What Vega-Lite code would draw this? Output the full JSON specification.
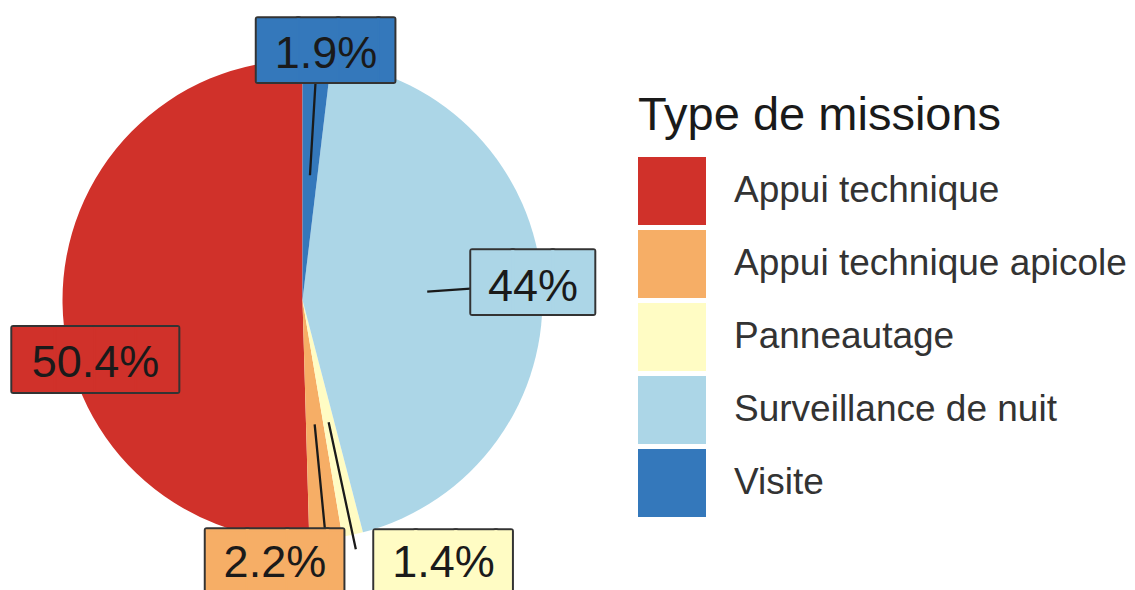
{
  "$schema": "https://vega.github.io/schema/vega-lite/v6.json",
  "width": 605,
  "height": 600,
  "autosize": "none",
  "padding": {"left": 0, "top": 0, "right": 530, "bottom": 0},
  "background": "white",
  "config": {"view": {"stroke": null}, "font": "Liberation Sans"},
  "data": {"values": [
    {"type": "Appui technique", "share": 0.504},
    {"type": "Appui technique apicole", "share": 0.022},
    {"type": "Panneautage", "share": 0.014},
    {"type": "Surveillance de nuit", "share": 0.44},
    {"type": "Visite", "share": 0.019}
  ]},
  "encoding": {
    "theta": {"field": "share", "type": "quantitative", "stack": true},
    "order": {"field": "type", "type": "ordinal", "sort": "descending"},
    "detail": {"field": "type", "type": "nominal"}
  },
  "layer": [
    {
      "mark": {"type": "arc", "outerRadius": 240},
      "encoding": {
        "color": {
          "field": "type", "type": "nominal",
          "scale": {"domain": ["Appui technique", "Appui technique apicole", "Panneautage", "Surveillance de nuit", "Visite"],
                    "range": ["#d0312a", "#f6ae66", "#fffcc4", "#acd6e7", "#3478bb"]},
          "legend": {
            "orient": "none", "legendX": 638, "legendY": 93,
            "title": "Type de missions",
            "titleFont": "Liberation Sans", "titleFontSize": 47, "titleFontWeight": "normal", "titleColor": "#1a1a1a",
            "titlePadding": 17, "titleLimit": 600,
            "labelFont": "Liberation Sans", "labelFontSize": 37, "labelColor": "#333333", "labelOffset": 28, "labelLimit": 600,
            "symbolType": "square", "symbolSize": 4624, "symbolStrokeWidth": 0, "symbolOpacity": 1,
            "rowPadding": 5
          }
        }
      }
    },
    {
      "mark": {"type": "arc", "outerRadius": 255, "innerRadius": 125, "padAngle": 3.1, "fillOpacity": 0, "stroke": "#1a1a1a", "strokeWidth": 2.3},
      "encoding": {"opacity": {"condition": {"test": "datum.type === 'Appui technique'", "value": 0}, "value": 1}}
    },
    {
      "encoding": {"opacity": {"condition": {"test": "datum.type === 'Visite'", "value": 1}, "value": 0}},
      "layer": [
        {"mark": {"type": "text", "text": "███▍", "font": "DejaVu Sans", "fontSize": 52, "radius": 251, "dx": 21, "dy": 3, "stroke": "#333333", "strokeWidth": 6, "strokeJoin": "round"},
         "encoding": {"color": {"field": "type", "type": "nominal"}}},
        {"mark": {"type": "text", "text": "███▍", "font": "DejaVu Sans", "fontSize": 52, "radius": 251, "dx": 21, "dy": 3, "strokeWidth": 2},
         "encoding": {"color": {"field": "type", "type": "nominal"},
                      "stroke": {"field": "type", "type": "nominal", "legend": null,
                                 "scale": {"domain": ["Appui technique", "Appui technique apicole", "Panneautage", "Surveillance de nuit", "Visite"],
                                           "range": ["#d0312a", "#f6ae66", "#fffcc4", "#acd6e7", "#3478bb"]}}}},
        {"mark": {"type": "text", "fontSize": 45, "radius": 251, "dx": 8.5, "dy": 5, "fill": "#1a1a1a"},
         "encoding": {"text": {"field": "share", "type": "quantitative", "format": ".3~p"}}}
      ]
    },
    {
      "encoding": {"opacity": {"condition": {"test": "datum.type === 'Surveillance de nuit'", "value": 1}, "value": 0}},
      "layer": [
        {"mark": {"type": "text", "text": "███", "font": "DejaVu Sans", "fontSize": 52, "radius": 231, "dy": -0.5, "stroke": "#333333", "strokeWidth": 6, "strokeJoin": "round"},
         "encoding": {"color": {"field": "type", "type": "nominal"}}},
        {"mark": {"type": "text", "text": "███", "font": "DejaVu Sans", "fontSize": 52, "radius": 231, "dy": -0.5, "strokeWidth": 2},
         "encoding": {"color": {"field": "type", "type": "nominal"},
                      "stroke": {"field": "type", "type": "nominal", "legend": null}}},
        {"mark": {"type": "text", "fontSize": 45, "radius": 231, "dy": 3, "fill": "#1a1a1a"},
         "encoding": {"text": {"field": "share", "type": "quantitative", "format": ".3~p"}}}
      ]
    },
    {
      "encoding": {"opacity": {"condition": {"test": "datum.type === 'Appui technique'", "value": 1}, "value": 0}},
      "layer": [
        {"mark": {"type": "text", "text": "████", "font": "DejaVu Sans", "fontSize": 53, "radius": 207, "dy": 59, "stroke": "#333333", "strokeWidth": 6, "strokeJoin": "round"},
         "encoding": {"color": {"field": "type", "type": "nominal"}}},
        {"mark": {"type": "text", "text": "████", "font": "DejaVu Sans", "fontSize": 53, "radius": 207, "dy": 59, "strokeWidth": 2},
         "encoding": {"color": {"field": "type", "type": "nominal"},
                      "stroke": {"field": "type", "type": "nominal", "legend": null}}},
        {"mark": {"type": "text", "fontSize": 45, "radius": 207, "dy": 60, "fill": "#1a1a1a"},
         "encoding": {"text": {"field": "share", "type": "quantitative", "format": ".3~p"}}}
      ]
    },
    {
      "encoding": {"opacity": {"condition": {"test": "datum.type === 'Appui technique apicole'", "value": 1}, "value": 0}},
      "layer": [
        {"mark": {"type": "text", "text": "███▍", "font": "DejaVu Sans", "fontSize": 52, "radius": 261, "dx": -40.5, "dy": 3.7, "stroke": "#333333", "strokeWidth": 6, "strokeJoin": "round"},
         "encoding": {"color": {"field": "type", "type": "nominal"}}},
        {"mark": {"type": "text", "text": "███▍", "font": "DejaVu Sans", "fontSize": 52, "radius": 261, "dx": -40.5, "dy": 3.7, "strokeWidth": 2},
         "encoding": {"color": {"field": "type", "type": "nominal"},
                      "stroke": {"field": "type", "type": "nominal", "legend": null}}},
        {"mark": {"type": "text", "fontSize": 45, "radius": 261, "dx": -53, "dy": 3, "fill": "#1a1a1a"},
         "encoding": {"text": {"field": "share", "type": "quantitative", "format": ".3~p"}}}
      ]
    },
    {
      "encoding": {"opacity": {"condition": {"test": "datum.type === 'Panneautage'", "value": 1}, "value": 0}},
      "layer": [
        {"mark": {"type": "text", "text": "███▍", "font": "DejaVu Sans", "fontSize": 52, "radius": 266, "dx": 97.8, "dy": 3.5, "stroke": "#333333", "strokeWidth": 6, "strokeJoin": "round"},
         "encoding": {"color": {"field": "type", "type": "nominal"}}},
        {"mark": {"type": "text", "text": "███▍", "font": "DejaVu Sans", "fontSize": 52, "radius": 266, "dx": 97.8, "dy": 3.5, "strokeWidth": 2},
         "encoding": {"color": {"field": "type", "type": "nominal"},
                      "stroke": {"field": "type", "type": "nominal", "legend": null}}},
        {"mark": {"type": "text", "fontSize": 45, "radius": 266, "dx": 85.3, "dy": 3, "fill": "#1a1a1a"},
         "encoding": {"text": {"field": "share", "type": "quantitative", "format": ".3~p"}}}
      ]
    }
  ]
}
